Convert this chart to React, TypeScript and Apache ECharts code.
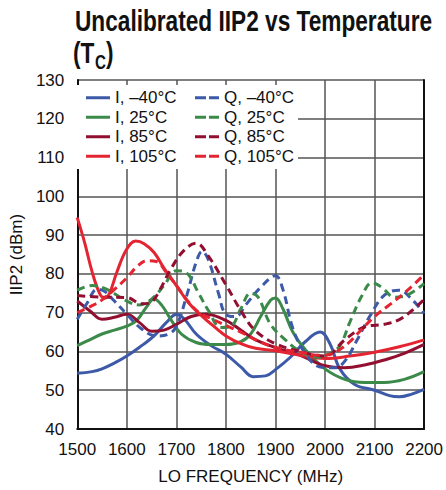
import React, { useEffect, useRef } from "react";
import * as echarts from "echarts";

const FONT = "'Liberation Sans', Arial, sans-serif";

const xTicks = [1500, 1600, 1700, 1800, 1900, 2000, 2100, 2200];
const yTicks = [40, 50, 60, 70, 80, 90, 100, 110, 120, 130];

// I, -40°C
const fIm40 = [1500, 1530, 1550, 1575, 1600, 1630, 1655, 1680, 1700, 1715, 1740, 1770, 1800, 1830, 1855, 1880, 1900, 1930, 1960, 1990, 2010, 2030, 2060, 2100, 2130, 2150, 2175, 2200];
const vIm40 = [54.4, 54.8, 55.5, 57, 58.8, 61.5, 64, 67.5, 69.5, 68.5, 64.5, 61.5, 59.3, 56, 53.5, 53.7, 55.3, 58.5, 62.5, 65, 62, 55.5, 51.5, 50, 48.6, 48.3, 49, 50.2];
// I, 25°C
const fI25 = [1500, 1525, 1550, 1575, 1600, 1620, 1640, 1655, 1670, 1690, 1710, 1740, 1770, 1800, 1830, 1850, 1870, 1890, 1900, 1915, 1935, 1960, 2000, 2040, 2080, 2120, 2160, 2200];
const vI25 = [61.5, 63, 64.5, 65.5, 66.5, 68, 71.5, 73.5, 72, 68, 64.5, 62.3, 61.8, 61.8, 62.5, 64.5, 69, 73.2, 73.8, 71, 65, 60.5, 55.5, 52.8, 52, 52, 52.8, 54.8];
// I, 85°C
const fI85 = [1500, 1525, 1550, 1575, 1600, 1625, 1650, 1675, 1700, 1730, 1760, 1800, 1830, 1860, 1900, 1950, 2000, 2040, 2080, 2120, 2160, 2200];
const vI85 = [73, 70.5, 68.3, 68.8, 69.6, 67.5, 65.2, 65.5, 67, 69, 69.6, 68, 65.5, 63, 61, 59, 56.3, 55.8, 56.5, 57.8, 59.5, 61.8];
// I, 105°C
const fI105 = [1500, 1515, 1530, 1545, 1555, 1565, 1580, 1600, 1618, 1635, 1655, 1675, 1700, 1725, 1750, 1780, 1800, 1830, 1860, 1900, 1950, 2000, 2050, 2100, 2150, 2200];
const vI105 = [94.5, 88, 80.5, 75, 73.8, 75, 80.5, 86.4, 88.5, 87.8, 85.5, 81.5, 77, 72.5, 69.3, 66, 64, 62, 60.8, 60.2, 59, 58.2, 58.8, 59.8, 61.2, 63];
// Q, -40°C
const fQm40 = [1500, 1520, 1540, 1555, 1575, 1600, 1630, 1660, 1685, 1700, 1720, 1740, 1752, 1765, 1785, 1800, 1820, 1840, 1870, 1900, 1915, 1935, 1960, 1990, 2020, 2040, 2065, 2090, 2120, 2150, 2175, 2200];
const vQm40 = [68.3, 72.5, 76, 75.5, 73, 69.6, 65.8, 64, 64.5, 66.5, 74, 83, 85.8, 83.5, 75, 69.6, 69, 72, 76.5, 79.5, 76, 66, 59.5, 56, 55.8, 57.5, 63, 69, 74.5, 75.8, 73.5, 69.8];
// Q, 25°C
const fQ25 = [1500, 1530, 1560, 1600, 1625, 1650, 1675, 1700, 1720, 1745, 1765, 1790, 1810, 1830, 1850, 1865, 1890, 1920, 1950, 1985, 2010, 2030, 2050, 2075, 2095, 2115, 2140, 2165, 2200];
const vQ25 = [75.8, 77, 76, 73, 72, 73.5, 77, 80.8, 80.3, 75, 70.5, 66.2, 66.5, 71, 75, 74, 67, 63, 60, 58.5, 59.5, 61.5, 67.5, 74.5, 77.7, 76.5, 74, 74.5, 77.5];
// Q, 85°C
const fQ85 = [1500, 1550, 1600, 1630, 1650, 1665, 1690, 1715, 1740, 1765, 1800, 1835, 1860, 1900, 1950, 2000, 2040, 2080, 2120, 2150, 2175, 2200];
const vQ85 = [74.4, 74, 73.9, 72.3, 72.8, 75.5, 81.5, 86, 87.9, 84.5, 77.2, 69.5, 65.3, 62, 60, 58.8, 63, 66.3, 67, 68.2, 70.5, 73.4];
// Q, 105°C
const fQ105 = [1500, 1530, 1550, 1575, 1600, 1620, 1640, 1660, 1680, 1700, 1720, 1746, 1770, 1800, 1830, 1860, 1900, 1950, 1990, 2010, 2030, 2050, 2065, 2100, 2130, 2165, 2200];
const vQ105 = [70, 71.8, 73.3, 76, 79, 81.8, 83.4, 83.2, 80.3, 77, 73.5, 70, 68.5, 66.7, 65, 63, 61, 59.8, 59, 59.2, 60.5, 62.5, 64.5, 69, 72, 75.6, 79.8];

const BLUE = "#3d5aa8";
const GREEN = "#3b8a4a";
const DRED = "#920f30";
const RED = "#e42431";

const SOLID_ICON = "path://M0,0h24v3h-24z";
const DASH_ICON = "path://M0,0h11v3h-11z M14,0h10v3h-10z";

const seriesDefs = [
  { name: "I, –40°C", f: fIm40, v: vIm40, color: BLUE, dashed: false },
  { name: "I, 25°C", f: fI25, v: vI25, color: GREEN, dashed: false },
  { name: "I, 85°C", f: fI85, v: vI85, color: DRED, dashed: false },
  { name: "I, 105°C", f: fI105, v: vI105, color: RED, dashed: false },
  { name: "Q, –40°C", f: fQm40, v: vQm40, color: BLUE, dashed: true },
  { name: "Q, 25°C", f: fQ25, v: vQ25, color: GREEN, dashed: true },
  { name: "Q, 85°C", f: fQ85, v: vQ85, color: DRED, dashed: true },
  { name: "Q, 105°C", f: fQ105, v: vQ105, color: RED, dashed: true },
];

const TITLE_SCALE = 0.755;

export default function App() {
  const ref = useRef<HTMLDivElement>(null);
  useEffect(() => {
    if (!ref.current) return;
    const chart = echarts.init(ref.current, null, { renderer: "svg" });
    const legendCommon = {
      orient: "vertical" as const,
      top: 88,
      itemWidth: 24,
      itemHeight: 3,
      itemGap: 0,
      textStyle: { fontFamily: FONT, fontSize: 17, color: "#111", lineHeight: 19.5, padding: [0, 0, 0, 0] },
      padding: 0,
    };
    const legendData = (defs: typeof seriesDefs) =>
      defs.map((s) => ({ name: s.name, icon: s.dashed ? DASH_ICON : SOLID_ICON, itemStyle: { color: s.color } }));
    chart.setOption({
      animation: false,
      grid: { left: 76, right: 17, top: 80, bottom: 57 },
      xAxis: {
        type: "value",
        min: 1500,
        max: 2200,
        interval: 100,
        name: "LO FREQUENCY (MHz)",
        nameLocation: "middle",
        nameGap: 39,
        nameTextStyle: { fontFamily: FONT, fontSize: 17, color: "#111" },
        axisLine: { show: true, lineStyle: { color: "#111", width: 2 } },
        axisTick: { show: false },
        axisLabel: {
          fontFamily: FONT,
          fontSize: 17,
          color: "#111",
          margin: 12,
          customValues: xTicks,
          formatter: (v: number) => String(v),
        },
        splitLine: { show: true, lineStyle: { color: "#555", width: 1.5 } },
      },
      yAxis: [
        {
          type: "value",
          min: 40,
          max: 130,
          interval: 10,
          name: "IIP2 (dBm)",
          nameLocation: "middle",
          nameGap: 47,
          nameTextStyle: { fontFamily: FONT, fontSize: 17, color: "#111" },
          axisLine: { show: true, lineStyle: { color: "#111", width: 2 } },
          axisTick: { show: false },
          axisLabel: {
            fontFamily: FONT,
            fontSize: 17,
            color: "#111",
            margin: 13,
            customValues: yTicks,
            formatter: (v: number) => String(v),
          },
          splitLine: { show: true, lineStyle: { color: "#555", width: 1.5 } },
        },
        {
          type: "value",
          min: 40,
          max: 130,
          interval: 10,
          position: "right",
          axisLine: { show: true, lineStyle: { color: "#111", width: 2 } },
          axisTick: { show: false },
          axisLabel: { show: false },
          splitLine: { show: false },
        },
      ],
      legend: [
        { ...legendCommon, left: 86, data: legendData(seriesDefs.slice(0, 4)) },
        { ...legendCommon, left: 195, data: legendData(seriesDefs.slice(4)) },
      ],
      graphic: [
        { type: "rect", z: 1, shape: { x: 77, y: 85, width: 221, height: 84 }, style: { fill: "#fff" } },
        {
          type: "text",
          x: 75,
          y: 21,
          scaleX: TITLE_SCALE,
          style: { text: "Uncalibrated IIP2 vs Temperature", font: `bold 30px ${FONT}`, fill: "#111", verticalAlign: "middle" },
        },
        {
          type: "text",
          x: 73,
          y: 53,
          scaleX: TITLE_SCALE,
          style: { text: "(T", font: `bold 30px ${FONT}`, fill: "#111", verticalAlign: "middle" },
        },
        {
          type: "text",
          x: 95,
          y: 62,
          scaleX: TITLE_SCALE,
          style: { text: "C", font: `bold 20px ${FONT}`, fill: "#111", verticalAlign: "middle" },
        },
        {
          type: "text",
          x: 106,
          y: 53,
          scaleX: TITLE_SCALE,
          style: { text: ")", font: `bold 30px ${FONT}`, fill: "#111", verticalAlign: "middle" },
        },
      ],
      series: seriesDefs.map((s) => ({
        name: s.name,
        type: "line",
        smooth: 0.4,
        symbol: "none",
        data: s.f.map((x, i) => [x, s.v[i]]),
        itemStyle: { color: s.color },
        lineStyle: { color: s.color, width: 3, type: s.dashed ? [8, 5] : "solid" },
        z: 2,
      })),
    });
    return () => chart.dispose();
  }, []);
  return <div ref={ref} style={{ width: 446, height: 490, position: "absolute", left: 0, top: 0 }} />;
}
